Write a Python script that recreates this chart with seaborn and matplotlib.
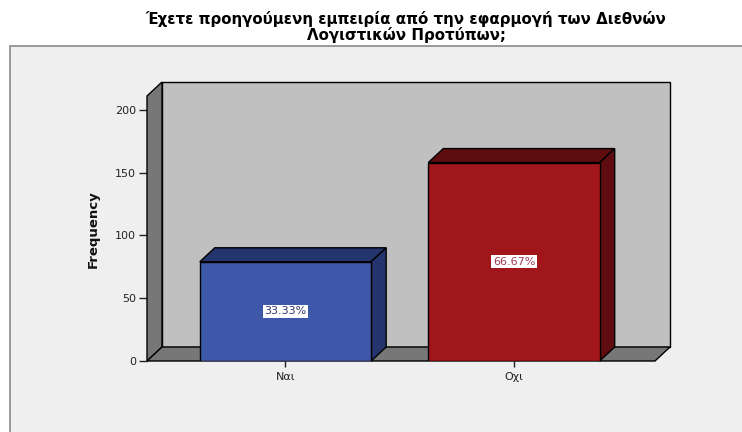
import matplotlib
matplotlib.use("Agg")
import matplotlib.pyplot as plt
import seaborn as sns
import pandas as pd
from matplotlib.patches import Polygon, Rectangle
from matplotlib.transforms import IdentityTransform

# data
categories = ["Ναι", "Οχι"]
frequencies = [79, 158]
percent_labels = ["33.33%", "66.67%"]
y_ticks = [0, 50, 100, 150, 200]
title = "Έχετε προηγούμενη εμπειρία από την εφαρμογή των Διεθνών\nΛογιστικών Προτύπων;"

# styling
front_colors = ["#3d57a9", "#a1161b"]
shade_colors = ["#24346c", "#5f0c10"]
label_colors = ["#33336b", "#a03a55"]
wall_color = "#c0c0c0"
side_color = "#777777"
panel_color = "#efefef"

sns.set_theme(style="white")
plt.rcParams["font.family"] = ["DejaVu Sans"]

W, H = 742, 432
DX, DY = 15, 14  # depth of the pseudo-3D effect, in pixels
Y_TOP = 211

fig = plt.figure(figsize=(W / 100, H / 100), dpi=100, facecolor="white")
fig.patches.append(Rectangle((10 / W, -0.01), 1.0, (H - 46) / H + 0.01,
                             transform=fig.transFigure, facecolor=panel_color,
                             edgecolor="#8a8a8a", lw=1.2, zorder=-5))

ax = fig.add_axes([147 / W, (H - 361) / H, (655 - 147) / W, (361 - 96) / H])
ax.patch.set_alpha(0)

df = pd.DataFrame({"answer": categories, "count": frequencies})
sns.barplot(data=df, x="answer", y="count", hue="answer", palette=front_colors,
            width=0.75, legend=False, ax=ax, saturation=1)
ax.set_xlim(-0.606, 1.617)
ax.set_ylim(0, Y_TOP)
for s in ax.spines.values():
    s.set_visible(False)

bars = list(ax.patches)


def disp(x, y, shifted=False):
    px, py = ax.transData.transform((x, y))
    if shifted:
        px, py = px + DX, py + DY
    return (px, py)


def face(points, color, z):
    ax.add_patch(Polygon(points, closed=True, facecolor=color, edgecolor="black",
                         lw=1.0, transform=IdentityTransform(), clip_on=False,
                         zorder=z))


x0, x1 = ax.get_xlim()
# back wall, left wall, floor
face([disp(x0, 0, True), disp(x1, 0, True), disp(x1, Y_TOP, True), disp(x0, Y_TOP, True)],
     wall_color, 0.5)
face([disp(x0, 0), disp(x0, 0, True), disp(x0, Y_TOP, True), disp(x0, Y_TOP)],
     side_color, 0.6)
face([disp(x0, 0), disp(x1, 0), disp(x1, 0, True), disp(x0, 0, True)],
     side_color, 0.6)

# bar front faces with top and side faces
for bar, shade in zip(bars, shade_colors):
    xl = bar.get_x()
    xr = xl + bar.get_width()
    top = bar.get_height()
    bar.set_edgecolor("black")
    bar.set_linewidth(1.0)
    bar.set_zorder(3)
    face([disp(xl, top), disp(xr, top), disp(xr, top, True), disp(xl, top, True)], shade, 2.5)
    face([disp(xr, 0), disp(xr, top), disp(xr, top, True), disp(xr, 0, True)], shade, 2.5)

for i, (val, lab, col) in enumerate(zip(frequencies, percent_labels, label_colors)):
    ax.text(i, val / 2, lab, ha="center", va="center", fontsize=8, color=col,
            zorder=5, bbox=dict(boxstyle="square,pad=0.15", facecolor="white",
                                edgecolor="none"))

ax.set_yticks(y_ticks)
ax.tick_params(axis="y", left=True, length=6, width=1, color="#222222",
               labelsize=8, labelcolor="#222222", pad=2)
ax.tick_params(axis="x", bottom=True, length=4, width=1, color="#222222",
               labelsize=8, labelcolor="#222222", pad=4)
ax.set_xlabel("")
ax.set_ylabel("Frequency", fontsize=9.5, fontweight="bold", color="#111111")
ax.yaxis.set_label_coords((100 - 147) / (655 - 147), (361 - 229) / (361 - 96))

fig.text(406 / W, 1 - 27 / H, title, ha="center", va="center", fontsize=10.8,
         fontweight="bold", linespacing=1.0, color="black")

fig.savefig("out.png", dpi=100)
